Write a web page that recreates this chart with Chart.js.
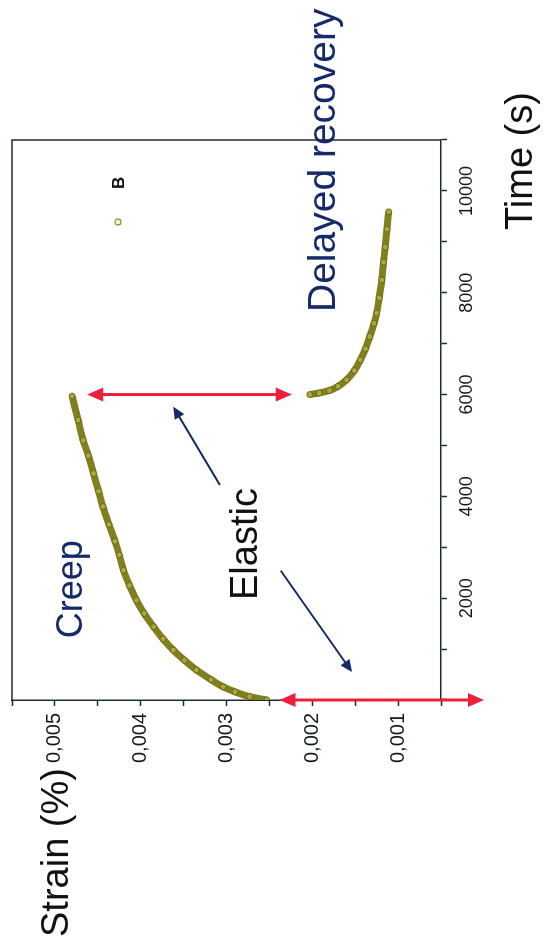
<!DOCTYPE html>
<html>
<head>
<meta charset="utf-8">
<script src="https://cdn.jsdelivr.net/npm/chart.js@4.4.1/dist/chart.umd.min.js"></script>
<style>
  html, body { margin: 0; padding: 0; background: #fff; overflow: hidden; width: 544px; height: 940px; }
  /* the figure is drawn landscape and turned a quarter turn, like the scan */
  #wrap { position: absolute; left: 0; top: 0; width: 940px; height: 544px;
          transform-origin: 0 0; transform: translateY(940px) rotate(-90deg); }
</style>
</head>
<body>
<div id="wrap"><canvas id="chart" width="940" height="544"></canvas></div>
<script>
// Data
const creepTime = [0, 65, 160, 260, 400, 590, 780, 980, 1200, 1440, 1700, 1960, 2250, 2550, 2850, 3120, 3450, 3800, 4100, 4450, 4800, 5100, 5500, 5970];
const creepStrain = [0.00253, 0.00273, 0.00290, 0.00304, 0.00318, 0.00335, 0.00349, 0.00362, 0.00374, 0.00385, 0.00396, 0.00405, 0.00413, 0.00420, 0.00425, 0.00430, 0.00437, 0.00444, 0.00449, 0.00455, 0.00461, 0.00467, 0.00473, 0.00480];
const recoveryTime = [6000, 6030, 6080, 6160, 6290, 6470, 6680, 6900, 7140, 7400, 7600, 7900, 8250, 8600, 8900, 9250, 9590];
const recoveryStrain = [0.00203, 0.00192, 0.00180, 0.00170, 0.00160, 0.00151, 0.00144, 0.00138, 0.00133, 0.00128, 0.00125, 0.00122, 0.00119, 0.00117, 0.00115, 0.00113, 0.00111];
const timeTicks = [2000, 4000, 6000, 8000, 10000];
const strainTicks = [0.001, 0.002, 0.003, 0.004, 0.005];
const seriesName = 'B';

const FONT = '"Liberation Sans", Arial, sans-serif';
const axisColor = '#1b302e';
const navy = '#15296b';
const red = '#ec1f3d';

// one series, with a gap where the load is removed
const points = creepTime.map((t, i) => ({ x: t, y: creepStrain[i] }));
points.push({ x: 5990, y: null });
recoveryTime.forEach((t, i) => points.push({ x: t, y: recoveryStrain[i] }));

function head(ctx, x1, y1, x2, y2, len, half) {
  const a = Math.atan2(y2 - y1, x2 - x1);
  ctx.beginPath();
  ctx.moveTo(x2, y2);
  ctx.lineTo(x2 - len * Math.cos(a) + half * Math.sin(a), y2 - len * Math.sin(a) - half * Math.cos(a));
  ctx.lineTo(x2 - len * Math.cos(a) - half * Math.sin(a), y2 - len * Math.sin(a) + half * Math.cos(a));
  ctx.closePath();
  ctx.fill();
}

function arrow(ctx, x1, y1, x2, y2, opt) {
  const d = Math.hypot(x2 - x1, y2 - y1), ux = (x2 - x1) / d, uy = (y2 - y1) / d;
  const cut = opt.len * 0.8;
  ctx.strokeStyle = opt.color; ctx.fillStyle = opt.color; ctx.lineWidth = opt.width;
  ctx.beginPath();
  ctx.moveTo(opt.both ? x1 + ux * cut : x1, opt.both ? y1 + uy * cut : y1);
  ctx.lineTo(x2 - ux * cut, y2 - uy * cut);
  ctx.stroke();
  head(ctx, x1, y1, x2, y2, opt.len, opt.half);
  if (opt.both) head(ctx, x2, y2, x1, y1, opt.len, opt.half);
}

// annotation places, in data units (time, strain)
const notes = [
  { text: 'Creep', t: 1212, s: 0.004688, size: 36, color: navy },
  { text: 'Elastic', t: 1964, s: 0.002641, size: 38, color: '#111' },
  { text: 'Delayed recovery', t: 7621, s: 0.001735, size: 39, color: navy }
];
const redArrows = [
  [6000, 0.004622, 6000, 0.00224],
  [0, 0.002382, 0, 0.0000]
];
const blueArrows = [
  [4223, 0.003076, 5762, 0.00362],
  [2540, 0.002368, 550, 0.001537]
];

const extras = {
  id: 'extras',
  afterDraw(chart) {
    const { ctx, chartArea: a, scales: { x, y } } = chart;
    ctx.save();
    // rest of the frame
    ctx.strokeStyle = axisColor; ctx.lineWidth = 1.5;
    ctx.beginPath();
    ctx.moveTo(a.left, a.top); ctx.lineTo(a.right, a.top); ctx.lineTo(a.right, a.bottom);
    ctx.stroke();

    // axis titles
    ctx.fillStyle = '#111';
    ctx.font = '38px ' + FONT;
    ctx.textBaseline = 'alphabetic';
    ctx.fillText('Strain (%)', 3, 68);
    ctx.fillText('Time (s)', a.right - 90, 532);

    // legend
    ctx.lineWidth = 1.2; ctx.strokeStyle = '#8c8c2c'; ctx.fillStyle = '#f4f4d8';
    ctx.beginPath(); ctx.arc(a.right - 82, a.top + 106, 3, 0, Math.PI * 2); ctx.fill(); ctx.stroke();
    ctx.fillStyle = '#111'; ctx.font = 'bold 17px ' + FONT;
    ctx.fillText(seriesName, a.right - 49, a.top + 112);

    notes.forEach(n => {
      ctx.font = n.size + 'px ' + FONT;
      ctx.fillStyle = n.color;
      ctx.fillText(n.text, x.getPixelForValue(n.t), y.getPixelForValue(n.s));
    });

    blueArrows.forEach(([t1, s1, t2, s2]) => arrow(ctx,
      x.getPixelForValue(t1), y.getPixelForValue(s1), x.getPixelForValue(t2), y.getPixelForValue(s2),
      { color: navy, width: 2, len: 12, half: 5.5, both: false }));
    redArrows.forEach(([t1, s1, t2, s2]) => arrow(ctx,
      x.getPixelForValue(t1), y.getPixelForValue(s1), x.getPixelForValue(t2), y.getPixelForValue(s2),
      { color: red, width: 3, len: 16, half: 7, both: true }));
    ctx.restore();
  }
};

new Chart(document.getElementById('chart'), {
  type: 'scatter',
  data: {
    datasets: [{
      label: seriesName,
      data: points,
      showLine: true,
      spanGaps: false,
      cubicInterpolationMode: 'monotone',
      borderColor: '#80801f',
      borderWidth: 7,
      pointRadius: 3,
      pointBorderWidth: 0.8,
      pointBorderColor: '#5c5c12',
      pointBackgroundColor: '#a8a83c'
    }]
  },
  options: {
    responsive: false,
    devicePixelRatio: 1,
    animation: false,
    layout: { padding: { left: 0, top: 12, right: 140, bottom: 0 } },
    plugins: { legend: { display: false }, tooltip: { enabled: false } },
    scales: {
      x: {
        type: 'linear', min: 0, max: 11000, position: 'bottom',
        afterFit: s => { s.height = 103; s.paddingLeft = 0; s.paddingRight = 0; },
        ticks: {
          stepSize: 1000, autoSkip: false, maxRotation: 0, padding: 9,
          color: '#111c1a', font: { size: 18, family: FONT },
          callback: v => timeTicks.includes(v) ? String(v) : ''
        },
        grid: { drawOnChartArea: false, tickLength: 6, tickColor: axisColor, tickWidth: 1.5 },
        border: { color: axisColor, width: 1.5 }
      },
      y: {
        type: 'linear', min: 0.0005, max: 0.0055,
        afterFit: s => { s.width = 240; s.paddingTop = 0; s.paddingBottom = 0; },
        ticks: {
          stepSize: 0.0005, autoSkip: false, padding: 7,
          color: '#111c1a', font: { size: 20, family: FONT },
          callback: v => strainTicks.some(k => Math.abs(k - v) < 1e-9) ? v.toFixed(3).replace('.', ',') : ''
        },
        grid: { drawOnChartArea: false, tickLength: 6, tickColor: axisColor, tickWidth: 1.5 },
        border: { color: axisColor, width: 1.5 }
      }
    }
  },
  plugins: [extras]
});
</script>
</body>
</html>
